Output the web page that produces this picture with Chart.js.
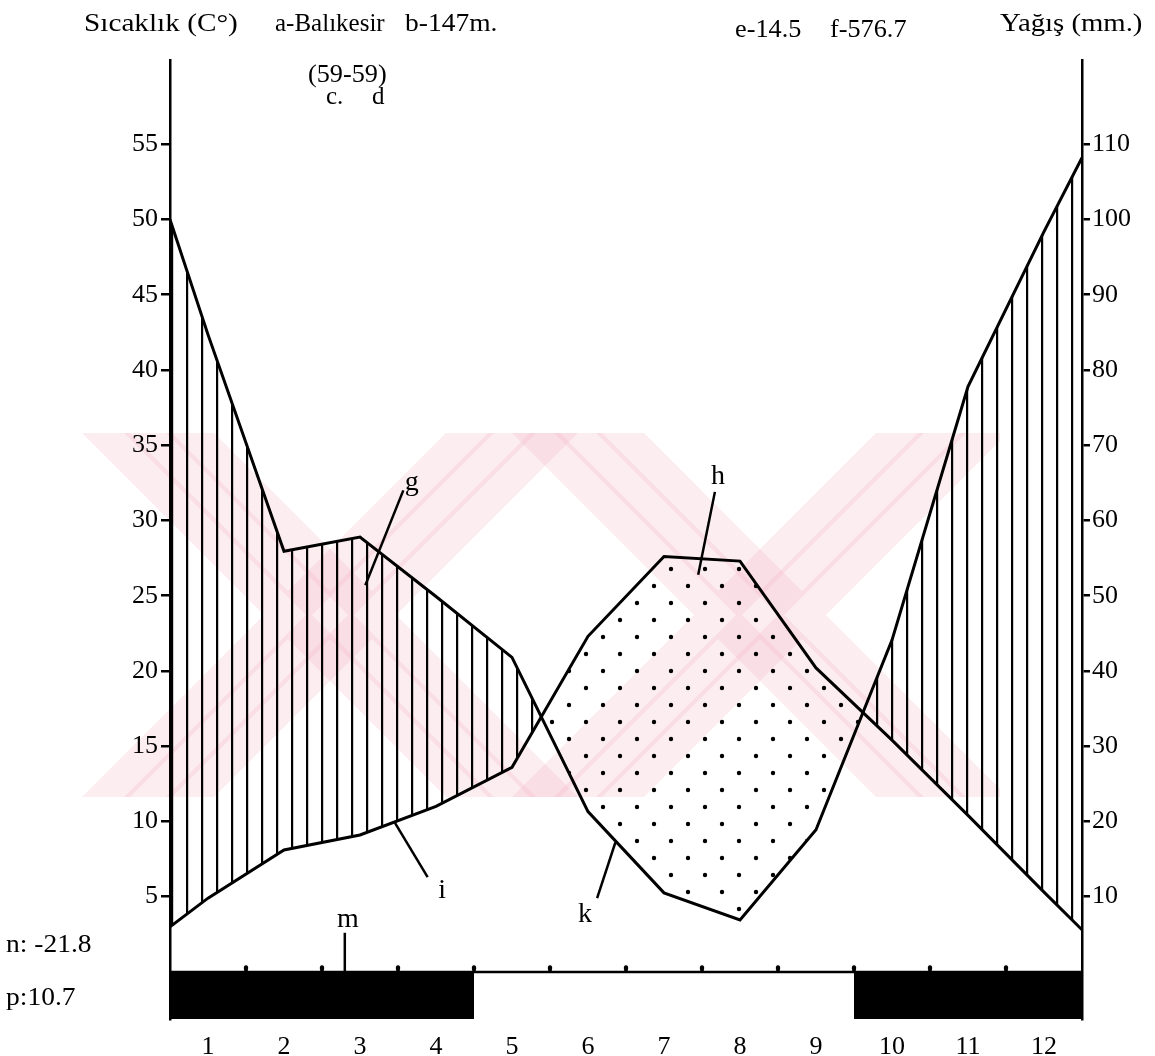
<!DOCTYPE html>
<html>
<head>
<meta charset="utf-8">
<script src="https://cdn.jsdelivr.net/npm/chart.js@4.4.1/dist/chart.umd.min.js"></script>
<style>
  html, body { margin: 0; padding: 0; background: #fff; }
  #wrap { width: 1155px; height: 1056px; }
</style>
</head>
<body>
<div id="wrap"><canvas id="climate"></canvas></div>
<script>
// Balıkesir climate diagram (Walter-Lieth)
const months = [1, 2, 3, 4, 5, 6, 7, 8, 9, 10, 11, 12];
const monthLabels = ['1', '2', '3', '4', '5', '6', '7', '8', '9', '10', '11', '12'];
// curve vertices: diagram edges + month centres
const curveX = [0.5, 1, 2, 3, 4, 5, 6, 7, 8, 9, 10, 11, 12, 12.5];
const temperature = [3.0, 4.9, 8.1, 9.1, 11.0, 13.6, 22.3, 27.6, 27.3, 20.2, 15.4, 10.4, 5.3, 2.8];
const precipitation = [100, 84.7, 55.9, 57.8, 49.9, 41.8, 21.3, 10.5, 6.9, 18.9, 44.1, 77.8, 98.4, 108.2];
const frostMonths = [[0.5, 4.5], [9.5, 12.5]];
const monthEdges = [1.5, 2.5, 3.5, 4.5, 5.5, 6.5, 7.5, 8.5, 9.5, 10.5, 11.5];
const tempTicks = [5, 10, 15, 20, 25, 30, 35, 40, 45, 50, 55];
const rainTicks = [10, 20, 30, 40, 50, 60, 70, 80, 90, 100, 110];

const SERIF = "'Liberation Serif', 'Times New Roman', serif";

// letter callouts, placed in month / °C units
const notes = [
  { text: 'g', at: [3.68, 32.5], line: [[3.57, 32.0], [3.07, 25.7]] },
  { text: 'h', at: [7.71, 32.9], line: [[7.67, 31.9], [7.45, 26.4]] },
  { text: 'i', at: [4.08, 5.4], line: [[3.46, 9.9], [3.89, 6.3]] },
  { text: 'k', at: [5.96, 3.8], line: [[6.36, 8.6], [6.12, 4.9]] },
  { text: 'm', at: [2.84, 3.5], line: [[2.80, 2.6], [2.80, 0]] }
];

function makeHatch() {
  const c = document.createElement('canvas');
  c.width = 15; c.height = 16;
  const g = c.getContext('2d');
  g.fillStyle = '#000';
  g.fillRect(6, 0, 2.2, 16);
  return g.createPattern(c, 'repeat');
}

function makeDots() {
  const c = document.createElement('canvas');
  c.width = 34; c.height = 34;
  const g = c.getContext('2d');
  g.fillStyle = '#000';
  g.beginPath(); g.arc(8, 8, 2.2, 0, Math.PI * 2); g.fill();
  g.beginPath(); g.arc(25, 25, 2.2, 0, Math.PI * 2); g.fill();
  return g.createPattern(c, 'repeat');
}

// small upward tick mark for month boundaries on the zero line
function makeTick() {
  const c = document.createElement('canvas');
  c.width = 6; c.height = 16;
  const g = c.getContext('2d');
  g.fillStyle = '#000';
  g.beginPath();
  g.ellipse(3, 4, 2.2, 2.8, 0, 0, Math.PI * 2);
  g.fill();
  g.fillRect(1.2, 4, 3.6, 4.5);
  return c;
}

const pts = (xs, ys) => xs.map((x, i) => ({ x: x, y: ys[i] }));

const datasets = [
  {
    label: 'Sıcaklık',
    data: pts(curveX, temperature),
    yAxisID: 'y',
    borderColor: '#000',
    borderWidth: 3,
    pointRadius: 0,
    fill: false,
    tension: 0
  },
  {
    label: 'Yağış',
    data: pts(curveX, precipitation),
    yAxisID: 'y2',
    borderColor: '#000',
    borderWidth: 3,
    pointRadius: 0,
    tension: 0,
    backgroundColor: makeHatch(),
    fill: { target: 0, above: makeHatch(), below: makeDots() }
  },
  {
    label: 'zero',
    data: [{ x: curveX[0], y: 0 }, { x: curveX[curveX.length - 1], y: 0 }],
    yAxisID: 'y',
    borderColor: '#000',
    borderWidth: 2.5,
    pointRadius: 0,
    fill: false
  }
];

frostMonths.forEach(r => {
  datasets.push({
    label: 'frost',
    data: [{ x: r[0], y: 0 }, { x: r[1], y: 0 }],
    yAxisID: 'y',
    borderWidth: 0,
    pointRadius: 0,
    backgroundColor: '#000',
    fill: 'start'
  });
});

datasets.push({
  label: 'edges',
  data: monthEdges.map(x => ({ x: x, y: 0 })),
  yAxisID: 'y',
  showLine: false,
  pointStyle: makeTick(),
  pointRadius: 5
});

const watermark = {
  id: 'watermark',
  beforeDraw(chart) {
    const ctx = chart.ctx;
    ctx.save();
    ctx.beginPath();
    ctx.rect(0, 433, 1000, 364);
    ctx.clip();
    ctx.strokeStyle = 'rgba(240, 150, 170, 0.17)';
    ctx.lineWidth = 34;
    [330, 760].forEach(cx => {
      const cy = 615;
      [-42, 0, 42].forEach(off => {
        ctx.beginPath();
        ctx.moveTo(cx - 400 + off, cy - 400);
        ctx.lineTo(cx + 400 + off, cy + 400);
        ctx.moveTo(cx + 400 + off, cy - 400);
        ctx.lineTo(cx - 400 + off, cy + 400);
        ctx.stroke();
      });
    });
    ctx.restore();
  }
};

// text stretched a little sideways, like the scanned original
function wideText(ctx, str, x, y, k) {
  ctx.save();
  ctx.translate(x, y);
  ctx.scale(k, 1);
  ctx.fillText(str, 0, 0);
  ctx.restore();
}

const labels = {
  id: 'labels',
  afterDraw(chart) {
    const ctx = chart.ctx;
    const sx = chart.scales.x, sy = chart.scales.y;
    ctx.save();
    ctx.fillStyle = '#000';
    ctx.strokeStyle = '#000';
    ctx.textBaseline = 'middle';
    ctx.textAlign = 'left';
    ctx.font = '25px ' + SERIF;
    wideText(ctx, 'Sıcaklık (C°)', 84, 24, 1.17);
    wideText(ctx, 'a-Balıkesir', 275, 24, 1.0);
    wideText(ctx, 'b-147m.', 405, 24, 1.1);
    wideText(ctx, 'e-14.5', 735, 30, 1.05);
    wideText(ctx, 'f-576.7', 830, 30, 1.05);
    wideText(ctx, 'Yağış (mm.)', 1000, 24, 1.15);
    wideText(ctx, '(59-59)', 308, 75, 1.05);
    wideText(ctx, 'c.', 326, 97, 1.0);
    wideText(ctx, 'd', 372, 97, 1.0);
    wideText(ctx, 'n: -21.8', 6, 945, 1.1);
    wideText(ctx, 'p:10.7', 6, 998, 1.1);

    ctx.lineWidth = 2.5;
    ctx.textAlign = 'center';
    ctx.font = '28px ' + SERIF;
    notes.forEach(n => {
      ctx.fillText(n.text, sx.getPixelForValue(n.at[0]), sy.getPixelForValue(n.at[1]));
      ctx.beginPath();
      ctx.moveTo(sx.getPixelForValue(n.line[0][0]), sy.getPixelForValue(n.line[0][1]));
      ctx.lineTo(sx.getPixelForValue(n.line[1][0]), sy.getPixelForValue(n.line[1][1]));
      ctx.stroke();
    });
    ctx.restore();
  }
};

const tickFont = { family: SERIF, size: 26 };

new Chart(document.getElementById('climate'), {
  type: 'line',
  data: { datasets: datasets },
  plugins: [watermark, labels],
  options: {
    responsive: true,
    maintainAspectRatio: false,
    animation: false,
    layout: { padding: { top: 60, left: 0, right: 0, bottom: 0 } },
    plugins: {
      legend: { display: false },
      tooltip: { enabled: false }
    },
    scales: {
      x: {
        type: 'linear',
        min: 0.5,
        max: 12.5,
        afterBuildTicks: s => { s.ticks = months.map(v => ({ value: v })); },
        afterFit: s => { s.height = 37; },
        grid: { display: false },
        border: { display: false },
        ticks: {
          autoSkip: false,
          maxRotation: 0,
          padding: 5,
          color: '#000',
          font: tickFont,
          callback: (v, i) => monthLabels[i]
        }
      },
      y: {
        position: 'left',
        min: -3.13,
        max: 60.6,
        afterBuildTicks: s => { s.ticks = tempTicks.map(v => ({ value: v })); },
        afterFit: s => { s.width = 170; },
        grid: { drawOnChartArea: false, tickLength: 9, color: '#000', lineWidth: 2.5 },
        border: { color: '#000', width: 2.5 },
        ticks: { color: '#000', font: tickFont, padding: 3 }
      },
      y2: {
        position: 'right',
        min: -6.26,
        max: 121.2,
        afterBuildTicks: s => { s.ticks = rainTicks.map(v => ({ value: v })); },
        afterFit: s => { s.width = 73; },
        grid: { drawOnChartArea: false, tickLength: 8, color: '#000', lineWidth: 2.5 },
        border: { color: '#000', width: 2.5 },
        ticks: { color: '#000', font: tickFont, padding: 2 }
      }
    }
  }
});
</script>
</body>
</html>
